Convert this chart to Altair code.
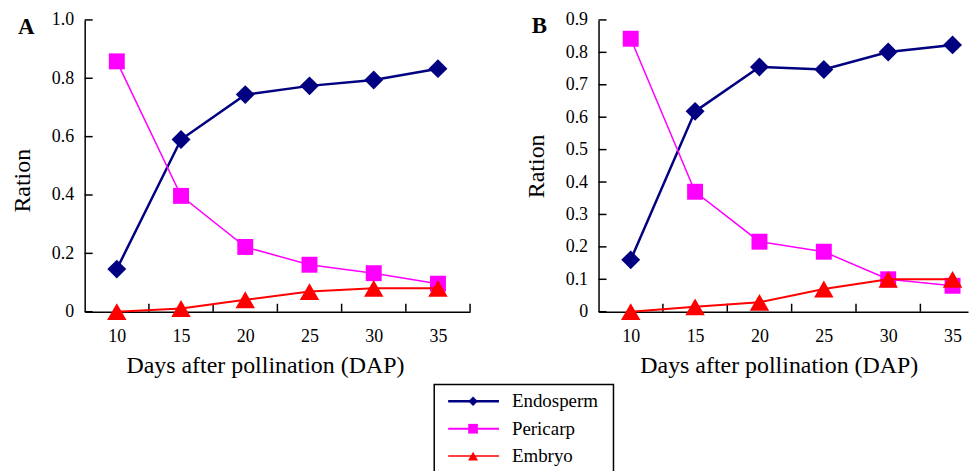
import altair as alt
import pandas as pd

# ---- data ----
days = [10, 15, 20, 25, 30, 35]
series_names = ["Endosperm", "Pericarp", "Embryo"]

a_endosperm = [0.146, 0.590, 0.744, 0.774, 0.794, 0.833]
a_pericarp = [0.858, 0.397, 0.222, 0.161, 0.132, 0.096]
a_embryo = [0.0, 0.011, 0.041, 0.069, 0.080, 0.080]

b_endosperm = [0.160, 0.618, 0.755, 0.747, 0.801, 0.823]
b_pericarp = [0.842, 0.370, 0.216, 0.185, 0.100, 0.080]
b_embryo = [0.0, 0.015, 0.029, 0.070, 0.100, 0.100]

a_yticks = [0, 0.2, 0.4, 0.6, 0.8, 1.0]
b_yticks = [0, 0.1, 0.2, 0.3, 0.4, 0.5, 0.6, 0.7, 0.8, 0.9]
x_between_ticks = [12.5, 17.5, 22.5, 27.5, 32.5, 37.5]

# ---- styles ----
colors = ["#000080", "#FF00FF", "#FF0000"]
shapes = ["diamond", "square", "triangle-up"]
marker_sizes = [361, 256, 380]
line_widths = [2.5, 1.5, 2.0]
legend_marker_sizes = [90, 100, 220]
FONT = "Liberation Serif"
H = 293


def panel(label, series_vals, yticks, ymax, xmax, title_y, label_x, label_y):
    rows = []
    for name, vals in zip(series_names, series_vals):
        for d, v in zip(days, vals):
            rows.append({"series": name, "day": d, "value": v})
    df = pd.DataFrame(rows)

    xenc = alt.X(
        "day:Q",
        scale=alt.Scale(domain=[7.5, xmax], nice=False, zero=False),
        axis=alt.Axis(
            values=days, format="d", ticks=False, grid=False, labelPadding=16,
            labelFont=FONT, labelFontSize=18, labelColor="black",
            title="Days after pollination (DAP)", titleX=181, titlePadding=8,
            titleFont=FONT, titleFontSize=24, titleFontWeight="normal", titleColor="black",
        ),
    )
    yaxis_kwargs = dict(
        values=yticks, ticks=False, grid=False, labelPadding=11,
        labelFont=FONT, labelFontSize=18, labelColor="black",
        labelExpr="datum.value == 0 ? '0' : format(datum.value, '.1f')",
        title="Ration", titleX=-50,
        titleFont=FONT, titleFontSize=24, titleFontWeight="normal", titleColor="black",
    )
    if title_y is not None:
        yaxis_kwargs["titleY"] = title_y
    yenc = alt.Y(
        "value:Q",
        scale=alt.Scale(domain=[0, ymax], nice=False, zero=True),
        axis=alt.Axis(**yaxis_kwargs),
    )

    xt = pd.DataFrame({"day": [t for t in x_between_ticks if t <= xmax]})
    yt = pd.DataFrame({"value": yticks})
    xtick_layer = alt.Chart(xt).mark_rule(color="black", strokeWidth=1.5).encode(
        x=xenc, y=alt.value(H - 8), y2=alt.value(H)
    )
    ytick_layer = alt.Chart(yt).mark_rule(color="black", strokeWidth=1.5).encode(
        y=yenc, x=alt.value(0), x2=alt.value(8)
    )

    layers = [xtick_layer, ytick_layer]
    for name, col, shp, ms, lw in zip(series_names, colors, shapes, marker_sizes, line_widths):
        base = alt.Chart(df).transform_filter(alt.datum.series == name)
        layers.append(base.mark_line(color=col, strokeWidth=lw).encode(x=xenc, y=yenc))
        layers.append(
            base.mark_point(shape=shp, filled=True, color=col, size=ms, opacity=1).encode(x=xenc, y=yenc)
        )

    lab = alt.Chart(pd.DataFrame({"label": [label]})).mark_text(
        align="left", baseline="alphabetic", font=FONT, fontSize=23, fontWeight="bold", color="black"
    ).encode(text="label:N", x=alt.value(label_x), y=alt.value(label_y))
    layers.append(lab)

    return alt.layer(*layers)


def legend_group():
    leg_df = pd.DataFrame({"series": series_names})
    ly = alt.Y("series:N", scale=alt.Scale(type="point", domain=series_names, range=[383, 438], padding=0), axis=None)
    lcol = alt.Color("series:N", scale=alt.Scale(domain=series_names, range=colors), legend=None)
    lbase = alt.Chart(leg_df)
    box = alt.Chart(pd.DataFrame({"box": [1]})).mark_rect(
        fill="white", stroke="black", strokeWidth=1.5
    ).encode(x=alt.value(351), x2=alt.value(531), y=alt.value(366), y2=alt.value(456))
    leg_rules = lbase.mark_rule().encode(
        x=alt.value(365), x2=alt.value(416), y=ly, color=lcol,
        strokeWidth=alt.StrokeWidth("series:N", scale=alt.Scale(domain=series_names, range=line_widths), legend=None),
    )
    leg_pts = lbase.mark_point(filled=True, opacity=1).encode(
        x=alt.value(390), y=ly, color=lcol,
        shape=alt.Shape("series:N", scale=alt.Scale(domain=series_names, range=shapes), legend=None),
        size=alt.Size("series:N", scale=alt.Scale(domain=series_names, range=legend_marker_sizes), legend=None),
    )
    leg_txt = lbase.mark_text(align="left", baseline="middle", font=FONT, fontSize=19, color="black").encode(
        x=alt.value(429), y=ly, text="series:N"
    )
    return alt.layer(box, leg_rules, leg_pts, leg_txt)


chart_a = alt.layer(
    panel("A", [a_endosperm, a_pericarp, a_embryo], a_yticks, 1.0, 37.5, 161, -67, 14),
    legend_group(),
).resolve_scale(y="independent").properties(width=387, height=H)
chart_b = panel("B", [b_endosperm, b_pericarp, b_embryo], b_yticks, 0.9, 36.2, None, -67, 13).properties(
    width=371, height=H
)

chart = alt.hconcat(chart_a, chart_b, spacing=129, bounds="flush").properties(
    padding={"left": 2, "top": 1, "right": 0, "bottom": 0}
).configure_view(stroke="transparent").configure_axis(
    labelFont=FONT, titleFont=FONT, domainColor="black", domainWidth=1.5,
)

chart.save("out.html", embed_options={"renderer": "svg", "actions": False})
